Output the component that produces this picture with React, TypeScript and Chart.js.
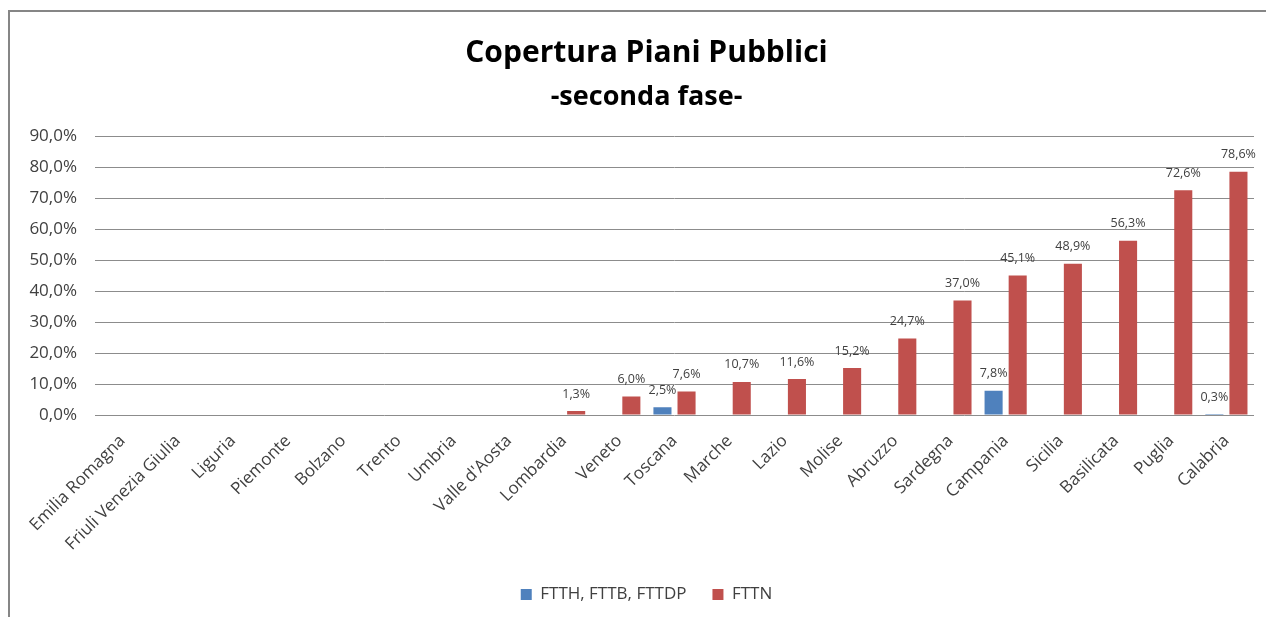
import React, { useEffect, useRef } from "react";
import { Chart, registerables } from "chart.js";

Chart.register(...registerables);

const categories = [
  "Emilia Romagna",
  "Friuli Venezia Giulia",
  "Liguria",
  "Piemonte",
  "Bolzano",
  "Trento",
  "Umbria",
  "Valle d'Aosta",
  "Lombardia",
  "Veneto",
  "Toscana",
  "Marche",
  "Lazio",
  "Molise",
  "Abruzzo",
  "Sardegna",
  "Campania",
  "Sicilia",
  "Basilicata",
  "Puglia",
  "Calabria",
];

const ftthValues: (number | null)[] = [
  null, null, null, null, null, null, null, null, null, null,
  2.5, null, null, null, null, null, 7.8, null, null, null, 0.3,
];

const fttnValues: (number | null)[] = [
  null, null, null, null, null, null, null, null,
  1.3, 6.0, 7.6, 10.7, 11.6, 15.2, 24.7, 37.0, 45.1, 48.9, 56.3, 72.6, 78.6,
];

const seriesNames = ["FTTH, FTTB, FTTDP", "FTTN"];
const titleText = "Copertura Piani Pubblici";
const subtitleText = "-seconda fase-";
const yMin = 0;
const yMax = 90;
const yStep = 10;

const fmt = (v: number) => v.toFixed(1).replace(".", ",") + "%";

const FONT = "'Open Sans', 'DejaVu Sans', sans-serif";

const dataLabelPlugin = {
  id: "dataLabels",
  afterDatasetsDraw(chart: any) {
    const ctx = chart.ctx;
    ctx.save();
    ctx.font = `12.5px ${FONT}`;
    ctx.fillStyle = "#404040";
    ctx.textAlign = "center";
    ctx.textBaseline = "middle";
    chart.data.datasets.forEach((ds: any, i: number) => {
      const meta = chart.getDatasetMeta(i);
      meta.data.forEach((bar: any, j: number) => {
        const v = ds.data[j];
        if (v == null || !isFinite(bar.y)) return;
        ctx.fillText(fmt(v), bar.x, bar.y - 17);
      });
    });
    ctx.restore();
  },
};

export default function App() {
  const ref = useRef<HTMLCanvasElement | null>(null);

  useEffect(() => {
    document.body.style.margin = "0";
    if (!ref.current) return;
    const chart = new Chart(ref.current, {
      type: "bar",
      data: {
        labels: categories,
        datasets: [
          {
            label: seriesNames[0],
            data: ftthValues,
            backgroundColor: "#4F81BD",
            categoryPercentage: 0.873,
            barPercentage: 0.75,
          },
          {
            label: seriesNames[1],
            data: fttnValues,
            backgroundColor: "#C0504D",
            categoryPercentage: 0.873,
            barPercentage: 0.75,
          },
        ],
      },
      options: {
        animation: false,
        responsive: false,
        devicePixelRatio: 1,
        layout: { padding: { left: 27, right: 0, top: 0, bottom: 4 } },
        plugins: {
          title: {
            display: true,
            text: titleText,
            color: "#000",
            font: { family: FONT, size: 30, weight: "bold" },
            padding: { top: 35, bottom: 0 },
          },
          subtitle: {
            display: true,
            text: subtitleText,
            color: "#000",
            font: { family: FONT, size: 27, weight: "bold" },
            padding: { top: 10, bottom: 23 },
          },
          legend: {
            position: "bottom",
            labels: {
              boxWidth: 11,
              boxHeight: 11,
              padding: 26,
              color: "#404040",
              font: { family: FONT, size: 17 },
            },
          },
          tooltip: { enabled: false },
        },
        scales: {
          x: {
            grid: { display: false },
            border: { display: false },
            ticks: {
              color: "#404040",
              font: { family: FONT, size: 17 },
              minRotation: 45,
              maxRotation: 45,
              autoSkip: false,
              padding: 8,
            },
            afterFit: (s: any) => {
              s.height = 145;
            },
          },
          y: {
            min: yMin,
            max: yMax,
            ticks: {
              stepSize: yStep,
              color: "#404040",
              font: { family: FONT, size: 17 },
              padding: 18,
              callback: (v: any) => fmt(Number(v)),
            },
            grid: { color: "#8c8c8c", drawTicks: false },
            border: { display: false },
            afterFit: (s: any) => {
              s.width = 68;
            },
          },
          yRight: {
            position: "right",
            display: true,
            grid: { display: false },
            border: { display: false },
            ticks: { display: false },
            afterFit: (s: any) => {
              s.width = 12;
            },
          },
        },
      } as any,
      plugins: [dataLabelPlugin],
    });
    return () => chart.destroy();
  }, []);

  return (
    <div style={{ position: "relative", width: 1266, height: 617, overflow: "hidden", background: "#fff" }}>
      <div
        style={{
          position: "absolute",
          left: 8,
          top: 10,
          width: 1300,
          height: 700,
          borderLeft: "2px solid #868686",
          borderTop: "2px solid #868686",
        }}
      />
      <canvas ref={ref} width={1266} height={617} style={{ position: "absolute", left: 0, top: 0 }} />
    </div>
  );
}
